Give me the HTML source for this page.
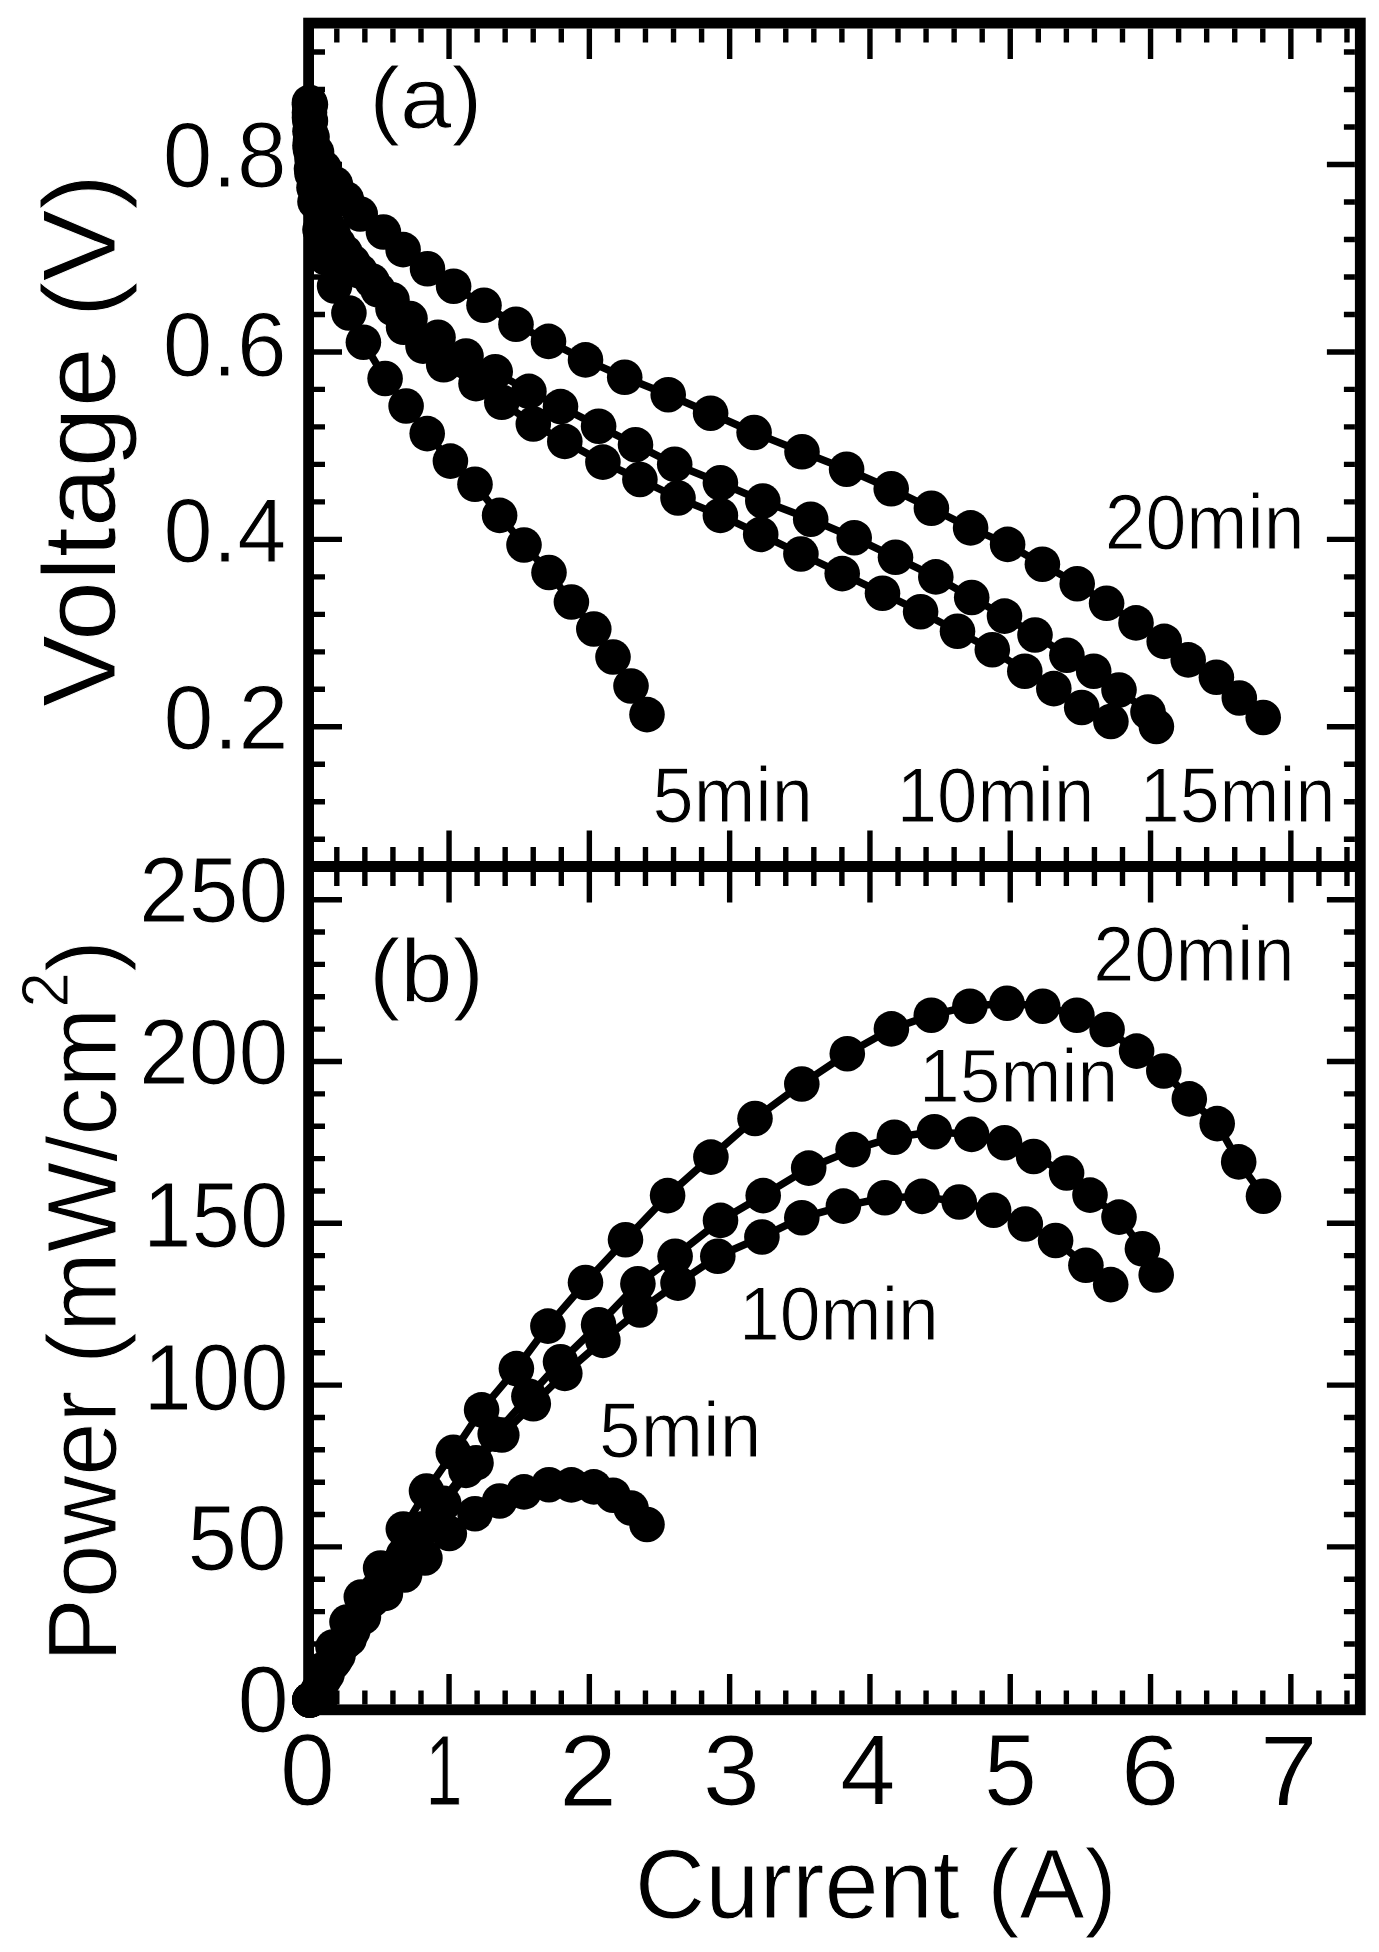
<!DOCTYPE html>
<html><head><meta charset="utf-8"><style>
html,body{margin:0;padding:0;background:#fff;}
svg{display:block;}
</style></head><body>
<svg width="1379" height="1952" viewBox="0 0 1379 1952">
<rect width="1379" height="1952" fill="#fff"/>
<rect x="308.6" y="23.1" width="1051.6999999999998" height="1686.7" fill="none" stroke="#000" stroke-width="10.8"/>
<line x1="308.6" y1="866.5" x2="1360.3" y2="866.5" stroke="#000" stroke-width="10.8"/>
<path d="M336.81 28.5v14M336.81 861.1v-14M336.81 871.9v14M336.81 1704.3999999999999v-14M364.87 28.5v14M364.87 861.1v-14M364.87 871.9v14M364.87 1704.3999999999999v-14M392.93 28.5v14M392.93 861.1v-14M392.93 871.9v14M392.93 1704.3999999999999v-14M420.99 28.5v14M420.99 861.1v-14M420.99 871.9v14M420.99 1704.3999999999999v-14M449.05 28.5v30.5M449.05 861.1v-30.5M449.05 871.9v30.5M449.05 1704.3999999999999v-30.5M477.11 28.5v14M477.11 861.1v-14M477.11 871.9v14M477.11 1704.3999999999999v-14M505.17 28.5v14M505.17 861.1v-14M505.17 871.9v14M505.17 1704.3999999999999v-14M533.23 28.5v14M533.23 861.1v-14M533.23 871.9v14M533.23 1704.3999999999999v-14M561.29 28.5v14M561.29 861.1v-14M561.29 871.9v14M561.29 1704.3999999999999v-14M589.35 28.5v30.5M589.35 861.1v-30.5M589.35 871.9v30.5M589.35 1704.3999999999999v-30.5M617.41 28.5v14M617.41 861.1v-14M617.41 871.9v14M617.41 1704.3999999999999v-14M645.47 28.5v14M645.47 861.1v-14M645.47 871.9v14M645.47 1704.3999999999999v-14M673.53 28.5v14M673.53 861.1v-14M673.53 871.9v14M673.53 1704.3999999999999v-14M701.59 28.5v14M701.59 861.1v-14M701.59 871.9v14M701.59 1704.3999999999999v-14M729.65 28.5v30.5M729.65 861.1v-30.5M729.65 871.9v30.5M729.65 1704.3999999999999v-30.5M757.71 28.5v14M757.71 861.1v-14M757.71 871.9v14M757.71 1704.3999999999999v-14M785.77 28.5v14M785.77 861.1v-14M785.77 871.9v14M785.77 1704.3999999999999v-14M813.83 28.5v14M813.83 861.1v-14M813.83 871.9v14M813.83 1704.3999999999999v-14M841.89 28.5v14M841.89 861.1v-14M841.89 871.9v14M841.89 1704.3999999999999v-14M869.95 28.5v30.5M869.95 861.1v-30.5M869.95 871.9v30.5M869.95 1704.3999999999999v-30.5M898.01 28.5v14M898.01 861.1v-14M898.01 871.9v14M898.01 1704.3999999999999v-14M926.07 28.5v14M926.07 861.1v-14M926.07 871.9v14M926.07 1704.3999999999999v-14M954.13 28.5v14M954.13 861.1v-14M954.13 871.9v14M954.13 1704.3999999999999v-14M982.19 28.5v14M982.19 861.1v-14M982.19 871.9v14M982.19 1704.3999999999999v-14M1010.25 28.5v30.5M1010.25 861.1v-30.5M1010.25 871.9v30.5M1010.25 1704.3999999999999v-30.5M1038.31 28.5v14M1038.31 861.1v-14M1038.31 871.9v14M1038.31 1704.3999999999999v-14M1066.37 28.5v14M1066.37 861.1v-14M1066.37 871.9v14M1066.37 1704.3999999999999v-14M1094.43 28.5v14M1094.43 861.1v-14M1094.43 871.9v14M1094.43 1704.3999999999999v-14M1122.49 28.5v14M1122.49 861.1v-14M1122.49 871.9v14M1122.49 1704.3999999999999v-14M1150.55 28.5v30.5M1150.55 861.1v-30.5M1150.55 871.9v30.5M1150.55 1704.3999999999999v-30.5M1178.61 28.5v14M1178.61 861.1v-14M1178.61 871.9v14M1178.61 1704.3999999999999v-14M1206.67 28.5v14M1206.67 861.1v-14M1206.67 871.9v14M1206.67 1704.3999999999999v-14M1234.73 28.5v14M1234.73 861.1v-14M1234.73 871.9v14M1234.73 1704.3999999999999v-14M1262.79 28.5v14M1262.79 861.1v-14M1262.79 871.9v14M1262.79 1704.3999999999999v-14M1290.85 28.5v30.5M1290.85 861.1v-30.5M1290.85 871.9v30.5M1290.85 1704.3999999999999v-30.5M1318.91 28.5v14M1318.91 861.1v-14M1318.91 871.9v14M1318.91 1704.3999999999999v-14M1346.97 28.5v14M1346.97 861.1v-14M1346.97 871.9v14M1346.97 1704.3999999999999v-14M314.0 839.27h11M1354.8999999999999 839.27h-11M314.0 801.79h11M1354.8999999999999 801.79h-11M314.0 764.30h11M1354.8999999999999 764.30h-11M314.0 726.81h28M1354.8999999999999 726.81h-28M314.0 689.32h11M1354.8999999999999 689.32h-11M314.0 651.83h11M1354.8999999999999 651.83h-11M314.0 614.35h11M1354.8999999999999 614.35h-11M314.0 576.86h11M1354.8999999999999 576.86h-11M314.0 539.37h28M1354.8999999999999 539.37h-28M314.0 501.88h11M1354.8999999999999 501.88h-11M314.0 464.39h11M1354.8999999999999 464.39h-11M314.0 426.91h11M1354.8999999999999 426.91h-11M314.0 389.42h11M1354.8999999999999 389.42h-11M314.0 351.93h28M1354.8999999999999 351.93h-28M314.0 314.44h11M1354.8999999999999 314.44h-11M314.0 276.95h11M1354.8999999999999 276.95h-11M314.0 239.47h11M1354.8999999999999 239.47h-11M314.0 201.98h11M1354.8999999999999 201.98h-11M314.0 164.49h28M1354.8999999999999 164.49h-28M314.0 127.00h11M1354.8999999999999 127.00h-11M314.0 89.51h11M1354.8999999999999 89.51h-11M314.0 52.03h11M1354.8999999999999 52.03h-11M314.0 1676.34h11M1354.8999999999999 1676.34h-11M314.0 1643.98h11M1354.8999999999999 1643.98h-11M314.0 1611.62h11M1354.8999999999999 1611.62h-11M314.0 1579.26h11M1354.8999999999999 1579.26h-11M314.0 1546.90h28M1354.8999999999999 1546.90h-28M314.0 1514.54h11M1354.8999999999999 1514.54h-11M314.0 1482.18h11M1354.8999999999999 1482.18h-11M314.0 1449.82h11M1354.8999999999999 1449.82h-11M314.0 1417.46h11M1354.8999999999999 1417.46h-11M314.0 1385.10h28M1354.8999999999999 1385.10h-28M314.0 1352.74h11M1354.8999999999999 1352.74h-11M314.0 1320.38h11M1354.8999999999999 1320.38h-11M314.0 1288.02h11M1354.8999999999999 1288.02h-11M314.0 1255.66h11M1354.8999999999999 1255.66h-11M314.0 1223.30h28M1354.8999999999999 1223.30h-28M314.0 1190.94h11M1354.8999999999999 1190.94h-11M314.0 1158.58h11M1354.8999999999999 1158.58h-11M314.0 1126.22h11M1354.8999999999999 1126.22h-11M314.0 1093.86h11M1354.8999999999999 1093.86h-11M314.0 1061.50h28M1354.8999999999999 1061.50h-28M314.0 1029.14h11M1354.8999999999999 1029.14h-11M314.0 996.78h11M1354.8999999999999 996.78h-11M314.0 964.42h11M1354.8999999999999 964.42h-11M314.0 932.06h11M1354.8999999999999 932.06h-11M314.0 899.70h28M1354.8999999999999 899.70h-28" stroke="#000" stroke-width="5.4" fill="none"/>
<path d="M310.4 104.5L310.4 121.0L312.0 137.0L316.5 152.0L324.0 168.0L335.3 184.0L346.3 199.0L360.2 214.0L383.4 232.0L403.1 249.6L427.5 268.8L453.6 286.2L484.0 305.3L516.0 324.2L548.5 341.4L585.5 359.9L624.7 377.3L668.2 394.7L710.6 413.2L754.1 432.5L802.0 451.8L846.6 469.2L891.2 488.8L931.4 508.3L970.6 527.9L1007.6 544.4L1042.4 564.2L1077.2 583.7L1106.6 603.3L1136.0 622.9L1164.2 641.4L1188.2 659.9L1216.4 677.3L1239.3 698.0L1263.2 717.5" stroke="#000" stroke-width="7.5" fill="none" stroke-linejoin="round"/>
<g><circle cx="310.4" cy="104.5" r="17.8"/><circle cx="310.4" cy="121.0" r="17.8"/><circle cx="312.0" cy="137.0" r="17.8"/><circle cx="316.5" cy="152.0" r="17.8"/><circle cx="324.0" cy="168.0" r="17.8"/><circle cx="335.3" cy="184.0" r="17.8"/><circle cx="346.3" cy="199.0" r="17.8"/><circle cx="360.2" cy="214.0" r="17.8"/><circle cx="383.4" cy="232.0" r="17.8"/><circle cx="403.1" cy="249.6" r="17.8"/><circle cx="427.5" cy="268.8" r="17.8"/><circle cx="453.6" cy="286.2" r="17.8"/><circle cx="484.0" cy="305.3" r="17.8"/><circle cx="516.0" cy="324.2" r="17.8"/><circle cx="548.5" cy="341.4" r="17.8"/><circle cx="585.5" cy="359.9" r="17.8"/><circle cx="624.7" cy="377.3" r="17.8"/><circle cx="668.2" cy="394.7" r="17.8"/><circle cx="710.6" cy="413.2" r="17.8"/><circle cx="754.1" cy="432.5" r="17.8"/><circle cx="802.0" cy="451.8" r="17.8"/><circle cx="846.6" cy="469.2" r="17.8"/><circle cx="891.2" cy="488.8" r="17.8"/><circle cx="931.4" cy="508.3" r="17.8"/><circle cx="970.6" cy="527.9" r="17.8"/><circle cx="1007.6" cy="544.4" r="17.8"/><circle cx="1042.4" cy="564.2" r="17.8"/><circle cx="1077.2" cy="583.7" r="17.8"/><circle cx="1106.6" cy="603.3" r="17.8"/><circle cx="1136.0" cy="622.9" r="17.8"/><circle cx="1164.2" cy="641.4" r="17.8"/><circle cx="1188.2" cy="659.9" r="17.8"/><circle cx="1216.4" cy="677.3" r="17.8"/><circle cx="1239.3" cy="698.0" r="17.8"/><circle cx="1263.2" cy="717.5" r="17.8"/></g>
<path d="M309.5 112.6L310.0 131.3L310.5 150.0L311.5 168.8L314.0 187.5L319.0 206.2L327.0 224.9L338.0 243.6L352.8 262.3L372.0 281.0L392.0 299.8L410.0 318.5L438.0 337.3L466.0 356.0L495.2 371.8L528.9 391.4L560.5 406.6L598.6 426.2L635.5 444.7L674.7 464.3L720.4 482.8L762.8 501.0L810.7 519.2L854.2 537.7L895.5 557.3L935.8 576.9L971.7 597.5L1004.5 616.1L1035.0 635.0L1066.9 655.3L1093.7 671.2L1119.0 690.0L1148.0 712.0L1156.4 726.5" stroke="#000" stroke-width="7.5" fill="none" stroke-linejoin="round"/>
<g><circle cx="309.5" cy="112.6" r="17.8"/><circle cx="310.0" cy="131.3" r="17.8"/><circle cx="310.5" cy="150.0" r="17.8"/><circle cx="311.5" cy="168.8" r="17.8"/><circle cx="314.0" cy="187.5" r="17.8"/><circle cx="319.0" cy="206.2" r="17.8"/><circle cx="327.0" cy="224.9" r="17.8"/><circle cx="338.0" cy="243.6" r="17.8"/><circle cx="352.8" cy="262.3" r="17.8"/><circle cx="372.0" cy="281.0" r="17.8"/><circle cx="392.0" cy="299.8" r="17.8"/><circle cx="410.0" cy="318.5" r="17.8"/><circle cx="438.0" cy="337.3" r="17.8"/><circle cx="466.0" cy="356.0" r="17.8"/><circle cx="495.2" cy="371.8" r="17.8"/><circle cx="528.9" cy="391.4" r="17.8"/><circle cx="560.5" cy="406.6" r="17.8"/><circle cx="598.6" cy="426.2" r="17.8"/><circle cx="635.5" cy="444.7" r="17.8"/><circle cx="674.7" cy="464.3" r="17.8"/><circle cx="720.4" cy="482.8" r="17.8"/><circle cx="762.8" cy="501.0" r="17.8"/><circle cx="810.7" cy="519.2" r="17.8"/><circle cx="854.2" cy="537.7" r="17.8"/><circle cx="895.5" cy="557.3" r="17.8"/><circle cx="935.8" cy="576.9" r="17.8"/><circle cx="971.7" cy="597.5" r="17.8"/><circle cx="1004.5" cy="616.1" r="17.8"/><circle cx="1035.0" cy="635.0" r="17.8"/><circle cx="1066.9" cy="655.3" r="17.8"/><circle cx="1093.7" cy="671.2" r="17.8"/><circle cx="1119.0" cy="690.0" r="17.8"/><circle cx="1148.0" cy="712.0" r="17.8"/><circle cx="1156.4" cy="726.5" r="17.8"/></g>
<path d="M309.5 102.4L310.0 121.2L310.5 139.9L312.0 158.7L314.0 177.4L318.0 196.1L324.0 214.9L333.0 233.6L345.0 252.4L360.0 271.1L378.0 289.8L393.0 308.6L403.6 327.3L423.0 346.1L443.7 364.8L476.0 383.6L501.8 402.3L533.3 424.0L564.8 441.4L602.9 462.1L639.9 479.5L678.0 498.0L720.4 515.4L760.7 534.4L800.9 554.0L842.2 573.6L882.5 593.2L920.6 611.7L957.5 631.3L992.3 649.7L1024.8 671.2L1053.8 688.6L1081.7 707.5L1110.9 721.5" stroke="#000" stroke-width="7.5" fill="none" stroke-linejoin="round"/>
<g><circle cx="309.5" cy="102.4" r="17.8"/><circle cx="310.0" cy="121.2" r="17.8"/><circle cx="310.5" cy="139.9" r="17.8"/><circle cx="312.0" cy="158.7" r="17.8"/><circle cx="314.0" cy="177.4" r="17.8"/><circle cx="318.0" cy="196.1" r="17.8"/><circle cx="324.0" cy="214.9" r="17.8"/><circle cx="333.0" cy="233.6" r="17.8"/><circle cx="345.0" cy="252.4" r="17.8"/><circle cx="360.0" cy="271.1" r="17.8"/><circle cx="378.0" cy="289.8" r="17.8"/><circle cx="393.0" cy="308.6" r="17.8"/><circle cx="403.6" cy="327.3" r="17.8"/><circle cx="423.0" cy="346.1" r="17.8"/><circle cx="443.7" cy="364.8" r="17.8"/><circle cx="476.0" cy="383.6" r="17.8"/><circle cx="501.8" cy="402.3" r="17.8"/><circle cx="533.3" cy="424.0" r="17.8"/><circle cx="564.8" cy="441.4" r="17.8"/><circle cx="602.9" cy="462.1" r="17.8"/><circle cx="639.9" cy="479.5" r="17.8"/><circle cx="678.0" cy="498.0" r="17.8"/><circle cx="720.4" cy="515.4" r="17.8"/><circle cx="760.7" cy="534.4" r="17.8"/><circle cx="800.9" cy="554.0" r="17.8"/><circle cx="842.2" cy="573.6" r="17.8"/><circle cx="882.5" cy="593.2" r="17.8"/><circle cx="920.6" cy="611.7" r="17.8"/><circle cx="957.5" cy="631.3" r="17.8"/><circle cx="992.3" cy="649.7" r="17.8"/><circle cx="1024.8" cy="671.2" r="17.8"/><circle cx="1053.8" cy="688.6" r="17.8"/><circle cx="1081.7" cy="707.5" r="17.8"/><circle cx="1110.9" cy="721.5" r="17.8"/></g>
<path d="M309.5 104.5L309.5 117.4L310.0 145.5L312.0 173.6L315.0 201.7L320.0 229.8L326.0 257.9L334.6 286.0L348.9 313.0L363.4 342.2L385.1 378.5L406.1 406.0L427.2 433.6L450.4 461.1L475.0 484.3L499.6 515.4L524.0 545.0L549.0 572.5L571.4 602.0L593.8 629.0L613.0 657.0L631.0 686.0L647.0 714.6" stroke="#000" stroke-width="7.5" fill="none" stroke-linejoin="round"/>
<g><circle cx="309.5" cy="104.5" r="17.8"/><circle cx="309.5" cy="117.4" r="17.8"/><circle cx="310.0" cy="145.5" r="17.8"/><circle cx="312.0" cy="173.6" r="17.8"/><circle cx="315.0" cy="201.7" r="17.8"/><circle cx="320.0" cy="229.8" r="17.8"/><circle cx="326.0" cy="257.9" r="17.8"/><circle cx="334.6" cy="286.0" r="17.8"/><circle cx="348.9" cy="313.0" r="17.8"/><circle cx="363.4" cy="342.2" r="17.8"/><circle cx="385.1" cy="378.5" r="17.8"/><circle cx="406.1" cy="406.0" r="17.8"/><circle cx="427.2" cy="433.6" r="17.8"/><circle cx="450.4" cy="461.1" r="17.8"/><circle cx="475.0" cy="484.3" r="17.8"/><circle cx="499.6" cy="515.4" r="17.8"/><circle cx="524.0" cy="545.0" r="17.8"/><circle cx="549.0" cy="572.5" r="17.8"/><circle cx="571.4" cy="602.0" r="17.8"/><circle cx="593.8" cy="629.0" r="17.8"/><circle cx="613.0" cy="657.0" r="17.8"/><circle cx="631.0" cy="686.0" r="17.8"/><circle cx="647.0" cy="714.6" r="17.8"/></g>
<path d="M309.8 1700.0L322.0 1670.0L333.0 1647.0L347.0 1622.0L361.3 1597.0L380.6 1568.0L403.3 1529.0L426.5 1491.0L453.3 1452.3L481.6 1409.9L516.4 1368.6L547.9 1326.1L585.5 1282.5L625.5 1239.7L667.6 1195.6L710.9 1157.1L755.0 1118.5L801.8 1084.0L847.3 1053.7L891.4 1028.9L931.3 1015.2L969.9 1006.2L1007.0 1003.3L1042.7 1006.2L1076.9 1015.2L1107.1 1029.5L1136.6 1051.1L1163.8 1071.0L1189.3 1098.9L1217.2 1123.6L1238.7 1161.9L1263.5 1196.2" stroke="#000" stroke-width="7.5" fill="none" stroke-linejoin="round"/>
<g><circle cx="309.8" cy="1700.0" r="17.8"/><circle cx="322.0" cy="1670.0" r="17.8"/><circle cx="333.0" cy="1647.0" r="17.8"/><circle cx="347.0" cy="1622.0" r="17.8"/><circle cx="361.3" cy="1597.0" r="17.8"/><circle cx="380.6" cy="1568.0" r="17.8"/><circle cx="403.3" cy="1529.0" r="17.8"/><circle cx="426.5" cy="1491.0" r="17.8"/><circle cx="453.3" cy="1452.3" r="17.8"/><circle cx="481.6" cy="1409.9" r="17.8"/><circle cx="516.4" cy="1368.6" r="17.8"/><circle cx="547.9" cy="1326.1" r="17.8"/><circle cx="585.5" cy="1282.5" r="17.8"/><circle cx="625.5" cy="1239.7" r="17.8"/><circle cx="667.6" cy="1195.6" r="17.8"/><circle cx="710.9" cy="1157.1" r="17.8"/><circle cx="755.0" cy="1118.5" r="17.8"/><circle cx="801.8" cy="1084.0" r="17.8"/><circle cx="847.3" cy="1053.7" r="17.8"/><circle cx="891.4" cy="1028.9" r="17.8"/><circle cx="931.3" cy="1015.2" r="17.8"/><circle cx="969.9" cy="1006.2" r="17.8"/><circle cx="1007.0" cy="1003.3" r="17.8"/><circle cx="1042.7" cy="1006.2" r="17.8"/><circle cx="1076.9" cy="1015.2" r="17.8"/><circle cx="1107.1" cy="1029.5" r="17.8"/><circle cx="1136.6" cy="1051.1" r="17.8"/><circle cx="1163.8" cy="1071.0" r="17.8"/><circle cx="1189.3" cy="1098.9" r="17.8"/><circle cx="1217.2" cy="1123.6" r="17.8"/><circle cx="1238.7" cy="1161.9" r="17.8"/><circle cx="1263.5" cy="1196.2" r="17.8"/></g>
<path d="M309.8 1700.0L314.0 1698.3L319.0 1689.0L327.0 1674.5L338.0 1655.4L352.8 1630.7L372.0 1600.0L392.0 1569.8L410.0 1545.0L438.0 1506.3L466.0 1470.4L495.2 1434.1L528.9 1396.2L560.5 1361.8L598.6 1324.7L637.9 1283.8L675.1 1256.3L720.5 1220.4L763.2 1195.6L808.7 1168.1L853.1 1149.6L894.4 1137.2L934.4 1131.7L971.6 1134.4L1004.6 1142.7L1033.6 1156.5L1066.6 1173.0L1090.0 1195.1L1119.0 1217.1L1142.4 1248.8L1156.2 1275.0" stroke="#000" stroke-width="7.5" fill="none" stroke-linejoin="round"/>
<g><circle cx="309.8" cy="1700.0" r="17.8"/><circle cx="314.0" cy="1698.3" r="17.8"/><circle cx="319.0" cy="1689.0" r="17.8"/><circle cx="327.0" cy="1674.5" r="17.8"/><circle cx="338.0" cy="1655.4" r="17.8"/><circle cx="352.8" cy="1630.7" r="17.8"/><circle cx="372.0" cy="1600.0" r="17.8"/><circle cx="392.0" cy="1569.8" r="17.8"/><circle cx="410.0" cy="1545.0" r="17.8"/><circle cx="438.0" cy="1506.3" r="17.8"/><circle cx="466.0" cy="1470.4" r="17.8"/><circle cx="495.2" cy="1434.1" r="17.8"/><circle cx="528.9" cy="1396.2" r="17.8"/><circle cx="560.5" cy="1361.8" r="17.8"/><circle cx="598.6" cy="1324.7" r="17.8"/><circle cx="637.9" cy="1283.8" r="17.8"/><circle cx="675.1" cy="1256.3" r="17.8"/><circle cx="720.5" cy="1220.4" r="17.8"/><circle cx="763.2" cy="1195.6" r="17.8"/><circle cx="808.7" cy="1168.1" r="17.8"/><circle cx="853.1" cy="1149.6" r="17.8"/><circle cx="894.4" cy="1137.2" r="17.8"/><circle cx="934.4" cy="1131.7" r="17.8"/><circle cx="971.6" cy="1134.4" r="17.8"/><circle cx="1004.6" cy="1142.7" r="17.8"/><circle cx="1033.6" cy="1156.5" r="17.8"/><circle cx="1066.6" cy="1173.0" r="17.8"/><circle cx="1090.0" cy="1195.1" r="17.8"/><circle cx="1119.0" cy="1217.1" r="17.8"/><circle cx="1142.4" cy="1248.8" r="17.8"/><circle cx="1156.2" cy="1275.0" r="17.8"/></g>
<path d="M309.8 1700.0L314.0 1698.0L318.0 1690.3L324.0 1679.2L333.0 1663.0L345.0 1642.3L360.0 1617.4L378.0 1588.9L393.0 1567.4L403.6 1554.5L423.0 1528.9L443.7 1503.4L476.0 1462.9L501.8 1435.0L533.3 1403.8L564.8 1373.4L602.9 1340.4L639.9 1310.0L678.0 1283.1L717.8 1256.3L761.9 1237.0L801.8 1217.7L843.4 1206.1L884.8 1197.8L922.0 1196.4L959.2 1202.0L993.6 1210.2L1025.3 1224.0L1055.6 1240.5L1085.9 1265.3L1110.7 1284.6" stroke="#000" stroke-width="7.5" fill="none" stroke-linejoin="round"/>
<g><circle cx="309.8" cy="1700.0" r="17.8"/><circle cx="314.0" cy="1698.0" r="17.8"/><circle cx="318.0" cy="1690.3" r="17.8"/><circle cx="324.0" cy="1679.2" r="17.8"/><circle cx="333.0" cy="1663.0" r="17.8"/><circle cx="345.0" cy="1642.3" r="17.8"/><circle cx="360.0" cy="1617.4" r="17.8"/><circle cx="378.0" cy="1588.9" r="17.8"/><circle cx="393.0" cy="1567.4" r="17.8"/><circle cx="403.6" cy="1554.5" r="17.8"/><circle cx="423.0" cy="1528.9" r="17.8"/><circle cx="443.7" cy="1503.4" r="17.8"/><circle cx="476.0" cy="1462.9" r="17.8"/><circle cx="501.8" cy="1435.0" r="17.8"/><circle cx="533.3" cy="1403.8" r="17.8"/><circle cx="564.8" cy="1373.4" r="17.8"/><circle cx="602.9" cy="1340.4" r="17.8"/><circle cx="639.9" cy="1310.0" r="17.8"/><circle cx="678.0" cy="1283.1" r="17.8"/><circle cx="717.8" cy="1256.3" r="17.8"/><circle cx="761.9" cy="1237.0" r="17.8"/><circle cx="801.8" cy="1217.7" r="17.8"/><circle cx="843.4" cy="1206.1" r="17.8"/><circle cx="884.8" cy="1197.8" r="17.8"/><circle cx="922.0" cy="1196.4" r="17.8"/><circle cx="959.2" cy="1202.0" r="17.8"/><circle cx="993.6" cy="1210.2" r="17.8"/><circle cx="1025.3" cy="1224.0" r="17.8"/><circle cx="1055.6" cy="1240.5" r="17.8"/><circle cx="1085.9" cy="1265.3" r="17.8"/><circle cx="1110.7" cy="1284.6" r="17.8"/></g>
<path d="M309.8 1700.0L321.0 1697.0L335.2 1660.0L349.2 1639.0L363.4 1617.0L385.4 1593.4L404.6 1575.0L424.9 1558.0L449.3 1533.5L475.0 1513.7L499.6 1501.0L524.0 1491.9L549.0 1484.7L571.4 1484.9L593.8 1486.9L613.0 1495.2L631.0 1508.0L647.0 1524.5" stroke="#000" stroke-width="7.5" fill="none" stroke-linejoin="round"/>
<g><circle cx="309.8" cy="1700.0" r="17.8"/><circle cx="321.0" cy="1697.0" r="17.8"/><circle cx="335.2" cy="1660.0" r="17.8"/><circle cx="349.2" cy="1639.0" r="17.8"/><circle cx="363.4" cy="1617.0" r="17.8"/><circle cx="385.4" cy="1593.4" r="17.8"/><circle cx="404.6" cy="1575.0" r="17.8"/><circle cx="424.9" cy="1558.0" r="17.8"/><circle cx="449.3" cy="1533.5" r="17.8"/><circle cx="475.0" cy="1513.7" r="17.8"/><circle cx="499.6" cy="1501.0" r="17.8"/><circle cx="524.0" cy="1491.9" r="17.8"/><circle cx="549.0" cy="1484.7" r="17.8"/><circle cx="571.4" cy="1484.9" r="17.8"/><circle cx="593.8" cy="1486.9" r="17.8"/><circle cx="613.0" cy="1495.2" r="17.8"/><circle cx="631.0" cy="1508.0" r="17.8"/><circle cx="647.0" cy="1524.5" r="17.8"/></g>
<g font-family="Liberation Sans, sans-serif" fill="#000" stroke="#fff" stroke-width="1"><text transform="matrix(1.0141,0,0,1.0455,162.64,186.67)" font-size="88">0.8</text><text transform="matrix(1.0141,0,0,1.0364,162.64,375.99)" font-size="88">0.6</text><text transform="matrix(1.0037,0,0,1.0364,163.57,562.19)" font-size="88">0.4</text><text transform="matrix(1.0212,0,0,1.0359,163.51,748.68)" font-size="88">0.2</text><text transform="matrix(1.0188,0,0,1.0455,138.91,921.67)" font-size="88">250</text><text transform="matrix(1.0188,0,0,1.0455,138.91,1084.05)" font-size="88">200</text><text transform="matrix(0.9898,0,0,1.0455,143.07,1247.45)" font-size="88">150</text><text transform="matrix(0.9871,0,0,1.0654,143.57,1409.74)" font-size="88">100</text><text transform="matrix(1.0139,0,0,1.0457,187.42,1570.19)" font-size="88">50</text><text transform="matrix(1.0482,0,0,1.0687,237.62,1731.87)" font-size="88">0</text><text transform="matrix(0.9960,0,0,1.0244,280.02,1804.50)" font-size="99">0</text><text transform="matrix(1.0550,0,0,1.0393,559.09,1805.56)" font-size="99">2</text><text transform="matrix(0.6712,0,0,1.0196,425.53,1805.02)" font-size="99">1</text><text transform="matrix(1.0399,0,0,1.0034,702.82,1805.02)" font-size="99">3</text><text transform="matrix(1.0106,0,0,1.0200,839.95,1805.03)" font-size="99">4</text><text transform="matrix(0.9619,0,0,1.0268,984.10,1805.00)" font-size="99">5</text><text transform="matrix(1.0656,0,0,1.0047,1120.63,1805.02)" font-size="99">6</text><text transform="matrix(1.0533,0,0,1.0200,1259.68,1805.98)" font-size="99">7</text><text transform="matrix(1.0051,0,0,1.0047,634.87,1918.18)" font-size="97">Current (A)</text><text transform="translate(114.90,707.01) rotate(-90) scale(1.0170,0.9782)" font-size="106">Voltage (V)</text><text transform="translate(116.47,1661.95) rotate(-90) scale(0.9872,1.0219)" font-size="97">Power (mW/cm<tspan font-size="65" dy="-47.5">2</tspan><tspan dy="47.5">)</tspan></text><text transform="matrix(1.0288,0,0,0.9679,369.13,128.06)" font-size="90">(a)</text><text transform="matrix(1.0450,0,0,0.9800,369.03,1002.22)" font-size="90">(b)</text><text transform="matrix(0.9658,0,0,1.0163,1104.72,549.18)" font-size="76">20min</text><text transform="matrix(0.9733,0,0,1.0314,652.58,822.08)" font-size="76">5min</text><text transform="matrix(0.9545,0,0,1.0209,896.74,821.65)" font-size="76">10min</text><text transform="matrix(0.9449,0,0,1.0209,1139.74,821.65)" font-size="76">15min</text><text transform="matrix(0.9728,0,0,1.0209,1093.21,981.09)" font-size="76">20min</text><text transform="matrix(0.9623,0,0,1.0045,919.10,1102.04)" font-size="76">15min</text><text transform="matrix(0.9644,0,0,1.0067,739.09,1340.08)" font-size="76">10min</text><text transform="matrix(0.9849,0,0,1.0134,599.04,1456.93)" font-size="76">5min</text></g>
</svg>
</body></html>
